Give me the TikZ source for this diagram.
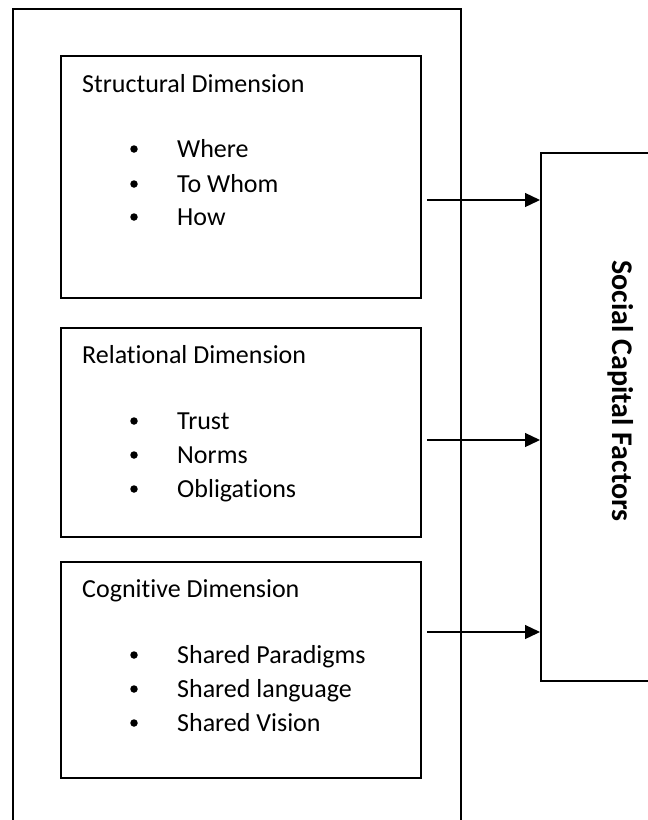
\documentclass[tikz,border=0pt]{standalone}
\usepackage{fontspec}
\setmainfont{Carlito}[Ligatures=CommonOff]
\usetikzlibrary{arrows.meta}
\begin{document}
\begin{tikzpicture}[x=1pt,y=-1pt,
  panel/.style={draw=black, line width=1.6pt, inner sep=0pt, anchor=north west},
  dimtitle/.style={anchor=base west, inner sep=0pt, font=\fontsize{26}{30}\selectfont},
  dimitem/.style={anchor=base west, inner sep=0pt, font=\fontsize{26}{30}\selectfont},
  bulletdot/.style={circle, fill=black, inner sep=0pt, minimum size=7.5pt},
  link/.style={draw=black, line width=1.3pt, -{Triangle[length=15pt,width=14pt]}},
]
\useasboundingbox (0,0) rectangle (648,820);

% enclosing frame (runs past the lower edge)
\node[panel, minimum width=448, minimum height=840] (outer) at (12,8) {};

% the three dimension panels
\node[panel, minimum width=360, minimum height=242] (struct) at (60,55) {};
\node[panel, minimum width=360, minimum height=209] (relat) at (60,327) {};
\node[panel, minimum width=360, minimum height=216] (cogn) at (60,561) {};

% target panel (runs past the right edge)
\node[panel, minimum width=140, minimum height=528] (factors) at (540,152) {};
\node[rotate=-90, inner sep=0pt, font=\fontsize{30}{34}\selectfont\bfseries] (factlabel) at (621,391) {Social Capital Factors};

% structural dimension
\node[dimtitle] (t1) at (82,92) {Structural Dimension};
\node[bulletdot] (d11) at (134,149) {};
\node[dimitem] (i11) at (177,157) {Where};
\node[bulletdot] (d12) at (134,184) {};
\node[dimitem] (i12) at (177,192) {To Whom};
\node[bulletdot] (d13) at (134,217) {};
\node[dimitem] (i13) at (177,225) {How};

% relational dimension
\node[dimtitle] (t2) at (82,363) {Relational Dimension};
\node[bulletdot] (d21) at (134,421) {};
\node[dimitem] (i21) at (177,429) {Trust};
\node[bulletdot] (d22) at (134,455) {};
\node[dimitem] (i22) at (177,463) {Norms};
\node[bulletdot] (d23) at (134,489) {};
\node[dimitem] (i23) at (177,497) {Obligations};

% cognitive dimension
\node[dimtitle] (t3) at (82,597) {Cognitive Dimension};
\node[bulletdot] (d31) at (134,655) {};
\node[dimitem] (i31) at (177,663) {Shared Paradigms};
\node[bulletdot] (d32) at (134,689) {};
\node[dimitem] (i32) at (177,697) {Shared language};
\node[bulletdot] (d33) at (134,723) {};
\node[dimitem] (i33) at (177,731) {Shared Vision};

% connectors into the target panel
\coordinate (s1) at (427,200);
\coordinate (s2) at (427,440);
\coordinate (s3) at (427,632);
\draw[link] (s1) -- (s1 -| factors.west);
\draw[link] (s2) -- (s2 -| factors.west);
\draw[link] (s3) -- (s3 -| factors.west);
\end{tikzpicture}
\end{document}
